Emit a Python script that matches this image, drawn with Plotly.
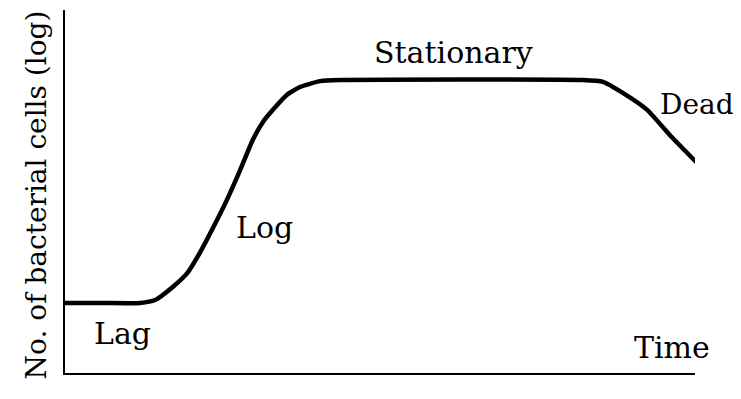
import plotly.graph_objects as go

# growth curve (time, log cell count)
time=[0, 0.56, 1.19, 1.43, 1.71, 1.94, 2.14, 2.35, 2.57, 2.78, 2.98, 3.14, 3.30,
      3.52, 3.73, 4.05, 4.37, 8.22, 8.54, 8.86, 9.24, 9.63, 10.03]
cells=[1.93, 1.93, 1.93, 2.01, 2.37, 2.75, 3.31, 4.00, 4.77, 5.59, 6.42, 6.91, 7.25,
       7.66, 7.88, 8.04, 8.07, 8.07, 8.02, 7.71, 7.25, 6.50, 5.79]

# phase labels and where they sit
phase_names=["Lag", "Log", "Stationary", "Dead", "Time"]
phase_x=[0.92, 3.17, 6.16, 10.0, 9.63]
phase_y=[1.10, 4.02, 8.82, 7.40, 0.69]
phase_shift=[0, 0, 0, 2, 0]
phase_size=[30, 30, 30, 28, 30]

font_name="DejaVu Serif"

fig=go.Figure()

fig.add_trace(
    go.Scatter(
        x=time,
        y=cells,
        mode="lines",
        line=dict(color="black", width=4.5, shape="spline", smoothing=0.5),
        hoverinfo="skip",
        showlegend=False
    )
)

for name, px_, py_, shift, size in zip(phase_names, phase_x, phase_y, phase_shift, phase_size):
    fig.add_annotation(
        x=px_,
        y=py_,
        xshift=shift,
        text=name,
        showarrow=False,
        font=dict(family=font_name, size=size, color="black")
    )

fig.add_annotation(
    x=-0.075,
    y=0.49,
    xref="paper",
    yref="paper",
    text="No. of bacterial cells (log)",
    textangle=-90,
    showarrow=False,
    font=dict(family=font_name, size=28, color="black")
)

# the page body adds an 8px offset, so margins are shifted to compensate
fig.update_layout(
    width=741,
    height=399,
    margin=dict(l=57, r=54, t=2, b=34),
    plot_bgcolor="white",
    paper_bgcolor="white"
)

fig.update_xaxes(
    range=[0, 10],
    showline=True,
    linecolor="black",
    linewidth=2,
    showgrid=False,
    zeroline=False,
    showticklabels=False,
    ticks=""
)

fig.update_yaxes(
    range=[0, 10],
    showline=True,
    linecolor="black",
    linewidth=2,
    showgrid=False,
    zeroline=False,
    showticklabels=False,
    ticks=""
)

fig.write_html("out.html")
